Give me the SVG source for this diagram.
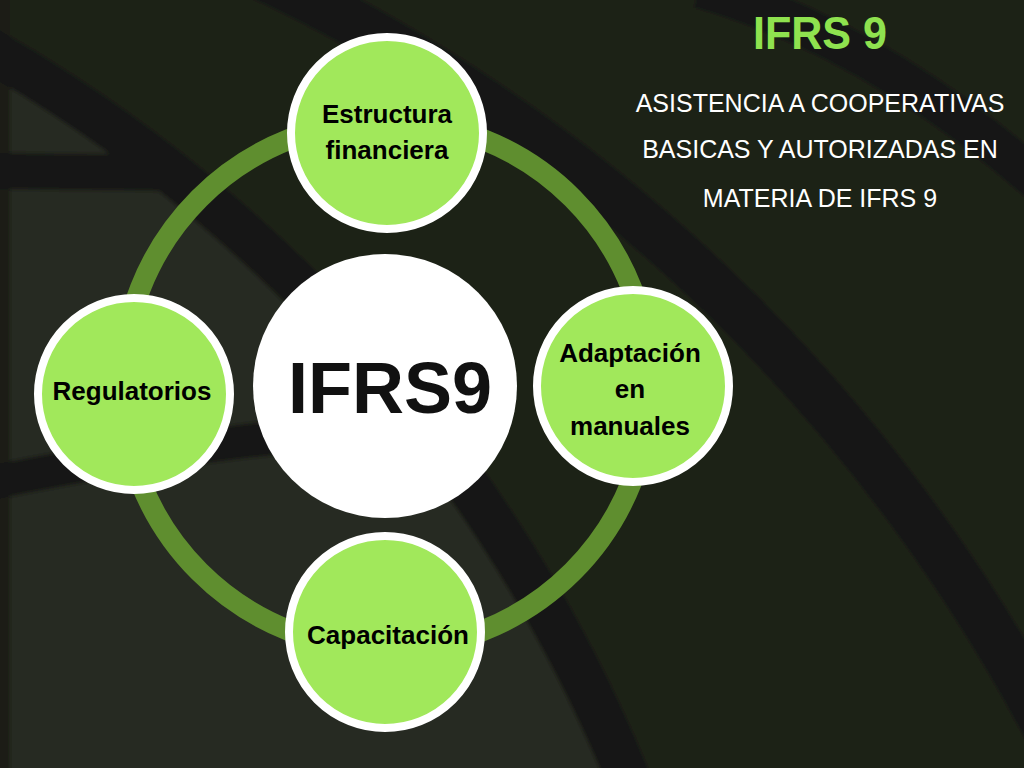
<svg xmlns="http://www.w3.org/2000/svg" width="1024" height="768" viewBox="0 0 1024 768">
  <defs>
    <filter id="soft" filterUnits="userSpaceOnUse" x="-20" y="-20" width="1064" height="808">
      <feGaussianBlur stdDeviation="2"/>
    </filter>
    <style>
      .band { fill: none; stroke: #131313; }
      .node { fill: #a1e85b; stroke: #ffffff; stroke-width: 8; }
      .lbl { font-family: "Liberation Sans", Arial, sans-serif; font-weight: bold; font-size: 26px; fill: #000000; text-anchor: middle; }
      .sub { font-family: "Liberation Sans", Arial, sans-serif; font-size: 25px; fill: #ffffff; text-anchor: middle; }
    </style>
  </defs>

  <!-- background -->
  <g id="background" filter="url(#soft)">
    <rect x="-20" y="-20" width="1064" height="808" fill="#1e2216"/>
    <circle cx="-751" cy="1343" r="1490" fill="#282a21"/>
    <rect x="-20" y="-20" width="30" height="808" fill="#1b1c18"/>
    <circle class="band" cx="-751" cy="1343" r="1490" stroke-width="44"/>
    <path class="band" d="M -10 171 L 185 173" stroke-width="36"/>
    <path class="band" d="M -10 483 Q 240 432 450 425" stroke-width="34"/>
    <circle class="band" cx="-476" cy="1532" r="1722" stroke-width="48"/>
    <path class="band" d="M 700 -12 Q 880 40 1050 192" stroke-width="40"/>
  </g>

  <!-- connectors -->
  <g id="connectors">
    <circle cx="386" cy="385" r="264" fill="none" stroke="#5f8e2f" stroke-width="21"/>
  </g>

  <!-- central node -->
  <g id="node-center">
    <circle cx="385" cy="386" r="132" fill="#ffffff"/>
    <text x="390" y="413" font-family="Liberation Sans, Arial, sans-serif" font-weight="bold" font-size="72" fill="#111111" text-anchor="middle">IFRS9</text>
  </g>

  <g id="node-estructura">
    <circle class="node" cx="387" cy="133" r="96"/>
    <text class="lbl" x="387" y="123">Estructura</text>
    <text class="lbl" x="387" y="159">financiera</text>
  </g>

  <g id="node-regulatorios">
    <circle class="node" cx="134" cy="394" r="96"/>
    <text class="lbl" x="132" y="400">Regulatorios</text>
  </g>

  <g id="node-adaptacion">
    <circle class="node" cx="633" cy="386" r="96"/>
    <text class="lbl" x="630" y="362">Adaptación</text>
    <text class="lbl" x="630" y="398">en</text>
    <text class="lbl" x="630" y="435">manuales</text>
  </g>

  <g id="node-capacitacion">
    <circle class="node" cx="385" cy="632" r="96"/>
    <text class="lbl" x="388" y="644">Capacitación</text>
  </g>

  <!-- header -->
  <g id="header">
    <text x="820" y="49" font-family="Liberation Sans, Arial, sans-serif" font-weight="bold" font-size="46" fill="#8fe24f" text-anchor="middle" textLength="134" lengthAdjust="spacingAndGlyphs">IFRS 9</text>
    <text class="sub" x="820" y="112">ASISTENCIA A COOPERATIVAS</text>
    <text class="sub" x="820" y="158">BASICAS Y AUTORIZADAS EN</text>
    <text class="sub" x="820" y="207">MATERIA DE IFRS 9</text>
  </g>
</svg>
